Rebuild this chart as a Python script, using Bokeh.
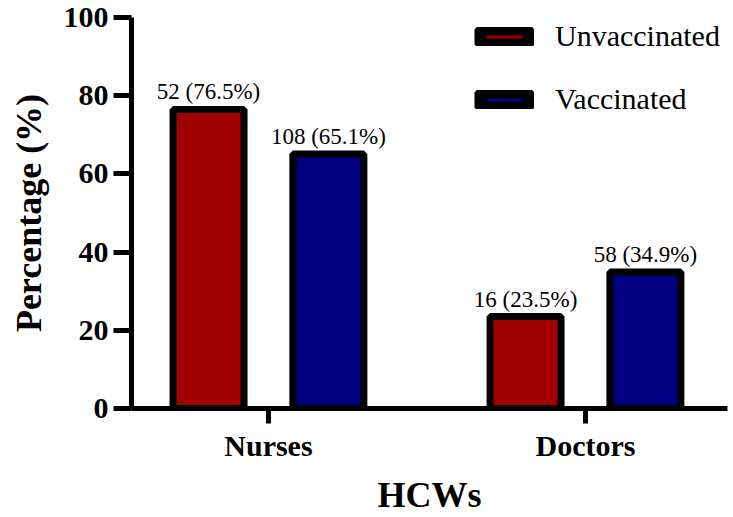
from bokeh.plotting import figure
from bokeh.models import (ColumnDataSource, LabelSet, Legend, LegendItem,
                          FixedTicker, Range1d)
from bokeh.transform import dodge
from bokeh.embed import file_html
from bokeh.resources import INLINE

# ---- data ----
categories = ["Nurses", "Doctors"]
unvacc_counts = [52, 16]
unvacc_pct = [76.5, 23.5]
vacc_counts = [108, 58]
vacc_pct = [65.1, 34.9]
series_names = ["Unvaccinated", "Vaccinated"]
y_ticks = [0, 20, 40, 60, 80, 100]

RED = "#a00000"
BLUE = "#000080"
SERIF = "Liberation Serif"

xs = list(range(len(categories)))
nan_col = [float("nan")] * len(categories)   # for legend-only renderers (draw nothing)
src_u = ColumnDataSource(dict(
    x=xs, top=unvacc_pct, hidden=nan_col,
    label=[f"{c} ({p}%)" for c, p in zip(unvacc_counts, unvacc_pct)]))
src_v = ColumnDataSource(dict(
    x=xs, top=vacc_pct, hidden=nan_col,
    label=[f"{c} ({p}%)" for c, p in zip(vacc_counts, vacc_pct)]))

p = figure(width=733, height=517, output_backend="svg", toolbar_location=None,
           x_range=Range1d(-0.432, 1.448), y_range=Range1d(0, 100),
           min_border_left=131, min_border_right=6, min_border_top=17,
           min_border_bottom=104)
p.outline_line_color = None
p.xgrid.visible = False
p.ygrid.visible = False
p.background_fill_color = "white"
p.border_fill_color = "white"

OFF = 0.189
BW = 0.224
p.vbar(x=dodge("x", -OFF), top="top", width=BW, source=src_u,
       fill_color=RED, line_color="black", line_width=7)
p.vbar(x=dodge("x", OFF), top="top", width=BW, source=src_v,
       fill_color=BLUE, line_color="black", line_width=7)

for src, off in ((src_u, -OFF), (src_v, OFF)):
    p.add_layout(LabelSet(x=dodge("x", off), y="top", text="label", source=src,
                          y_offset=10, text_align="center",
                          text_baseline="alphabetic", text_font=SERIF,
                          text_font_size="23px", text_color="black"))

# legend-only renderers (thick-outlined symbol); their tops are NaN so nothing is drawn
lu = p.vbar(x="x", top="hidden", width=BW, source=src_u,
            fill_color=RED, line_color="black", line_width=12)
lv = p.vbar(x="x", top="hidden", width=BW, source=src_v,
            fill_color=BLUE, line_color="black", line_width=12)
legend = Legend(items=[LegendItem(label=series_names[0], renderers=[lu]),
                       LegendItem(label=series_names[1], renderers=[lv])],
                location=(343, 292), padding=0, margin=0, spacing=29,
                glyph_height=19, glyph_width=60, label_height=19,
                label_standoff=21, label_text_font=SERIF,
                label_text_font_size="30px", label_text_color="black",
                border_line_alpha=0, background_fill_alpha=0)
p.add_layout(legend)

# axes
p.xaxis.ticker = FixedTicker(ticks=xs)
p.xaxis.major_label_overrides = {i: c for i, c in enumerate(categories)}
p.yaxis.ticker = FixedTicker(ticks=y_ticks)
for ax in (p.xaxis[0], p.yaxis[0]):
    ax.axis_line_width = 5
    ax.axis_line_color = "black"
    ax.major_tick_line_width = 5
    ax.major_tick_line_color = "black"
    ax.major_tick_in = 0
    ax.minor_tick_line_color = None
    ax.major_label_text_font = SERIF
    ax.major_label_text_font_style = "bold"
    ax.major_label_text_font_size = "30px"
    ax.major_label_text_color = "black"
    ax.axis_label_text_font = SERIF
    ax.axis_label_text_font_style = "bold"
    ax.axis_label_text_font_size = "36px"
    ax.axis_label_text_color = "black"

p.xaxis.major_tick_out = 15
p.xaxis.major_label_standoff = 5
p.xaxis.axis_label = "HCWs"
p.xaxis.axis_label_standoff = 10

p.yaxis.major_tick_out = 18
p.yaxis.major_label_standoff = 5
p.yaxis.axis_label = "Percentage (%)"
p.yaxis.axis_label_standoff = 12

open("out.html", "w").write(file_html(p, INLINE))
